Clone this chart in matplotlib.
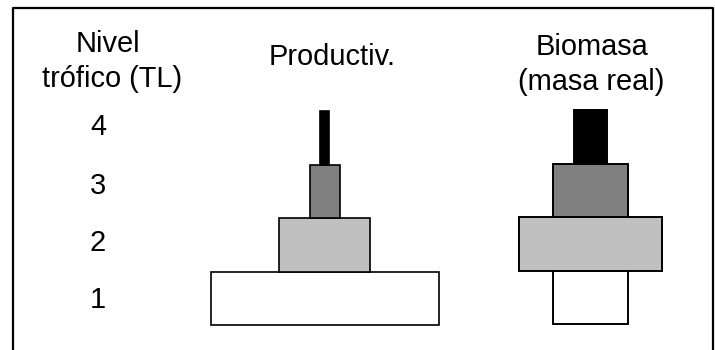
import matplotlib
matplotlib.use('Agg')
import matplotlib.pyplot as plt
from matplotlib.lines import Line2D

plt.rcParams['font.family'] = ['Liberation Sans', 'DejaVu Sans']

# trophic levels and relative block widths (pixel-ish units)
levels = [1, 2, 3, 4]
level_labels = ['1', '2', '3', '4']
colors = ['#ffffff', '#c0c0c0', '#808080', '#000000']
prod_widths = [227.7, 91.0, 30.6, 9.3]
biom_widths = [75.6, 143.6, 75.6, 32.4]
col_titles = ['Productiv.', 'Biomasa\n(masa real)']

W, H = 715, 350
fig = plt.figure(figsize=(W / 100, H / 100), dpi=100)
ax = fig.add_axes([0, 0, 1, 1])
ax.set_xlim(0, W)
# level 1 centred at 298.5 px from top, 53.5 px per level
ax.set_ylim(1 - (H - 298.5) / 53.5, 1 + 298.5 / 53.5)
ax.axis('off')

prod_x = 324.8
biom_x = 590.5
for lev, w, c in zip(levels, prod_widths, colors):
    ax.bar(prod_x, 1, width=w, bottom=lev - 0.5, color=c,
           edgecolor='black', linewidth=1.2)
for lev, w, c in zip(levels, biom_widths, colors):
    ax.bar(biom_x, 1, width=w, bottom=lev - 0.5 + 0.02, color=c,
           edgecolor='black', linewidth=1.4)

def px(x, y):
    return x / W, 1 - y / H

# frame (open at the bottom)
xs = [12.5, 12.5, 712.7, 712.7]
ys = [350, 8.3, 8.3, 350]
fig.add_artist(Line2D([x / W for x in xs], [1 - y / H for y in ys],
                      color='black', linewidth=1.6, transform=fig.transFigure))

hs = 20.9
fig.text(*px(108, 52), 'Nivel', ha='center', va='baseline', fontsize=hs)
fig.text(*px(112, 87), 'trófico (TL)', ha='center', va='baseline', fontsize=hs)
fig.text(*px(332.5, 65), col_titles[0], ha='center', va='baseline', fontsize=hs)
t1, t2 = col_titles[1].split('\n')
fig.text(*px(591.5, 55), t1, ha='center', va='baseline', fontsize=hs)
fig.text(*px(591, 90), t2, ha='center', va='baseline', fontsize=hs)

label_base = [308, 251, 194, 135]
for lab, yy in zip(level_labels, label_base):
    fig.text(*px(98, yy), lab, ha='center', va='baseline', fontsize=hs)

fig.savefig('out.png', dpi=100)
